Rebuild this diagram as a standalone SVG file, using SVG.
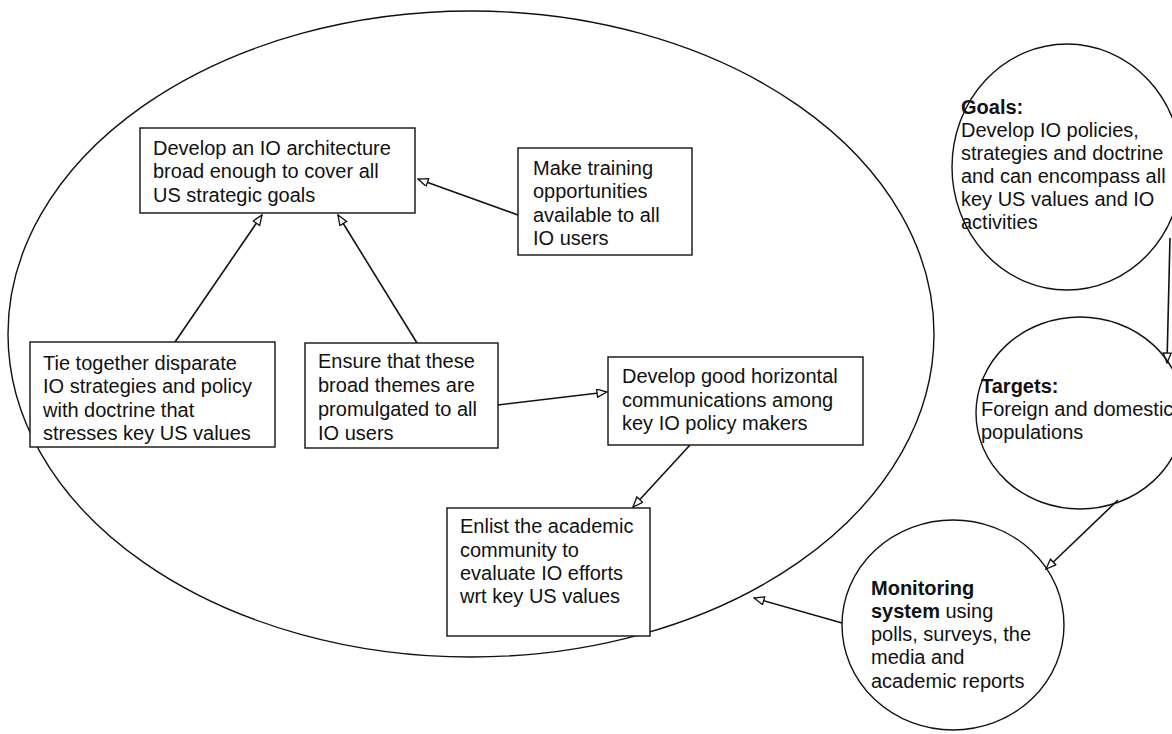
<svg xmlns="http://www.w3.org/2000/svg" width="1172" height="734" viewBox="0 0 1172 734">
  <style>
    .box { fill: #ffffff; stroke: #111111; stroke-width: 1.4; }
    .ring { fill: none; stroke: #111111; stroke-width: 1.4; }
    .edge { fill: none; stroke: #111111; stroke-width: 1.6; marker-end: url(#arrow); }
    text { font-family: "Liberation Sans", Arial, sans-serif; font-size: 20px; fill: #111111; }
    .b { font-weight: bold; }
  </style>
  <defs>
    <marker id="arrow" markerUnits="userSpaceOnUse" markerWidth="12" markerHeight="10" refX="11" refY="4.5" orient="auto">
      <path d="M1,0.5 L11,4.5 L1,8.5 Z" fill="#ffffff" stroke="#111111" stroke-width="1.3"/>
    </marker>
  </defs>

  <rect width="1172" height="734" fill="#ffffff"/>

  <!-- large boundary ellipse -->
  <ellipse class="ring" cx="471" cy="334" rx="463" ry="323"/>

  <g id="connectors">
    <line class="edge" x1="175" y1="342" x2="262" y2="215"/>
    <line class="edge" x1="417" y1="343" x2="338" y2="215"/>
    <line class="edge" x1="518" y1="215" x2="418" y2="179"/>
    <line class="edge" x1="498" y1="405" x2="607" y2="392"/>
    <line class="edge" x1="690" y1="445" x2="633" y2="507"/>
    <line class="edge" x1="1170" y1="238" x2="1167" y2="363"/>
    <line class="edge" x1="1118" y1="500" x2="1046" y2="569"/>
    <line class="edge" x1="842" y1="623" x2="754" y2="598"/>
  </g>

  <g id="architecture">
    <rect class="box" x="140" y="128" width="275" height="85"/>
    <text x="153" y="155">Develop an IO architecture</text>
    <text x="153" y="178">broad enough to cover all</text>
    <text x="153" y="202">US strategic goals</text>
  </g>

  <g id="training">
    <rect class="box" x="518" y="148" width="174" height="107"/>
    <text x="533" y="175">Make training</text>
    <text x="533" y="198">opportunities</text>
    <text x="533" y="222">available to all</text>
    <text x="533" y="245">IO users</text>
  </g>

  <g id="tie-together">
    <rect class="box" x="30" y="342" width="245" height="105"/>
    <text x="43" y="370">Tie together disparate</text>
    <text x="43" y="393">IO strategies and policy</text>
    <text x="43" y="417">with doctrine that</text>
    <text x="43" y="440">stresses key US values</text>
  </g>

  <g id="promulgate">
    <rect class="box" x="305" y="343" width="193" height="105"/>
    <text x="318" y="368">Ensure that these</text>
    <text x="318" y="392">broad themes are</text>
    <text x="318" y="416">promulgated to all</text>
    <text x="318" y="440">IO users</text>
  </g>

  <g id="horizontal">
    <rect class="box" x="608" y="357" width="255" height="88"/>
    <text x="622" y="383">Develop good horizontal</text>
    <text x="622" y="407">communications among</text>
    <text x="622" y="430">key IO policy makers</text>
  </g>

  <g id="academic">
    <rect class="box" x="447" y="508" width="203" height="128"/>
    <text x="460" y="533">Enlist the academic</text>
    <text x="460" y="557">community to</text>
    <text x="460" y="580">evaluate IO efforts</text>
    <text x="460" y="603">wrt key US values</text>
  </g>

  <g id="goals">
    <ellipse class="ring" cx="1067" cy="167" rx="115" ry="123"/>
    <text class="b" x="961" y="114">Goals:</text>
    <text x="961" y="137">Develop IO policies,</text>
    <text x="961" y="160">strategies and doctrine</text>
    <text x="961" y="183">and can encompass all</text>
    <text x="961" y="206">key US values and IO</text>
    <text x="961" y="229">activities</text>
  </g>

  <g id="targets">
    <ellipse class="ring" cx="1080" cy="413" rx="104" ry="96"/>
    <text class="b" x="981" y="393">Targets:</text>
    <text x="981" y="416">Foreign and domestic</text>
    <text x="981" y="439">populations</text>
  </g>

  <g id="monitoring">
    <ellipse class="ring" cx="953" cy="625" rx="111" ry="105"/>
    <text x="871" y="595" class="b">Monitoring</text>
    <text x="871" y="618"><tspan class="b">system</tspan> using</text>
    <text x="871" y="641">polls, surveys, the</text>
    <text x="871" y="664">media and</text>
    <text x="871" y="688">academic reports</text>
  </g>
</svg>
